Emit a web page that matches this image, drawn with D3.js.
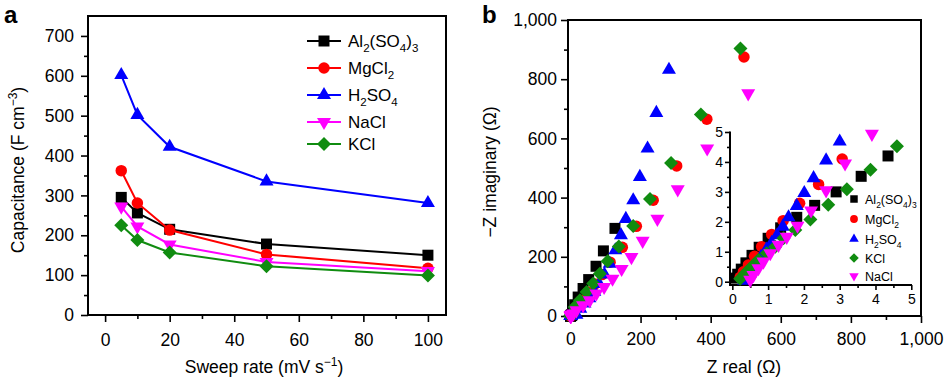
<!DOCTYPE html>
<html>
<head>
<meta charset="utf-8">
<script src="https://cdn.jsdelivr.net/npm/d3@7"></script>
<style>
  body { margin: 0; background: #fff; }
  text { font-family: "Liberation Sans", Arial, Helvetica, sans-serif; fill: #000; }
</style>
</head>
<body>
<div id="chart"></div>
<script>
// ---- panel a: capacitance vs sweep rate ----
const sweepRates = [5, 10, 20, 50, 100];
const capAl = [295, 256, 215, 178, 150];
const capMg = [362, 281, 213, 152, 117];
const capH2SO4 = [602, 502, 422, 335, 281];
const capNaCl = [272, 222, 177, 133, 110];
const capKCl = [225, 188, 157, 122, 99];

// ---- panel b: Nyquist plot, pairs of [Z real, -Z imaginary] ----
const nyqAl = [[0.08, 0.12], [0.15, 0.25], [0.25, 0.42], [0.38, 0.63], [0.55, 0.88], [0.75, 1.15],
  [1.0, 1.45], [1.35, 1.8], [1.8, 2.15], [2.3, 2.55], [2.9, 3.0], [3.6, 3.52], [4.35, 4.2],
  [6, 16], [12, 38], [22, 64], [36, 93], [52, 123], [73, 168], [94, 220], [127, 296]];
const nyqMg = [[0.22, 0.15], [0.31, 0.33], [0.45, 0.56], [0.62, 0.85], [0.82, 1.17], [1.1, 1.58],
  [1.42, 2.04], [1.88, 2.62], [2.41, 3.25], [3.07, 4.1],
  [15, 28], [31, 52], [50, 80], [70, 108], [90, 140], [113, 182], [148, 232], [188, 303],
  [236, 391], [303, 507], [389, 665], [495, 875]];
const nyqH2SO4 = [[0.33, 0.03], [0.4, 0.14], [0.48, 0.27], [0.57, 0.43], [0.68, 0.62], [0.8, 0.83],
  [0.95, 1.07], [1.1, 1.3], [1.25, 1.55], [1.41, 1.84], [1.57, 2.15], [1.8, 2.53], [2.01, 2.96],
  [2.27, 3.46], [2.62, 4.05], [3.0, 4.68],
  [17, 4], [28, 25], [40, 42], [54, 60], [68, 82], [82, 108], [97, 140], [112, 177], [128, 222],
  [144, 273], [158, 328], [179, 391], [198, 470], [220, 566], [245, 686], [281, 832]];
const nyqKCl = [[0.22, 0.1], [0.36, 0.28], [0.54, 0.5], [0.73, 0.73], [0.96, 0.95], [1.2, 1.17],
  [1.43, 1.45], [1.76, 1.73], [2.18, 2.08], [2.68, 2.57], [3.2, 3.09], [3.86, 3.74], [4.6, 4.52],
  [12, 30], [27, 53], [46, 81], [65, 110], [84, 143], [106, 185], [138, 235], [179, 304],
  [227, 395], [287, 517], [372, 681], [485, 904]];
const nyqNaCl = [[0.5, 0.06], [0.59, 0.22], [0.73, 0.45], [0.87, 0.67], [1.06, 0.95], [1.29, 1.23],
  [1.52, 1.5], [1.82, 1.87], [2.2, 2.38], [2.62, 3.05], [3.15, 3.95], [3.9, 4.94],
  [8, 8], [17, 19], [36, 36], [55, 53], [74, 76], [96, 98], [120, 126], [146, 159], [174, 199],
  [206, 254], [248, 328], [306, 428], [390, 566], [507, 752]];

const xTicksA = [0, 20, 40, 60, 80, 100];
const yTicksA = [0, 100, 200, 300, 400, 500, 600, 700];
const ticksB = [0, 200, 400, 600, 800, 1000];
const ticksInset = [0, 1, 2, 3, 4, 5];

const seriesA = [
  { name: "Al2(SO4)3", values: capAl, color: "#000000", shape: "square" },
  { name: "MgCl2", values: capMg, color: "#ff0000", shape: "circle" },
  { name: "H2SO4", values: capH2SO4, color: "#0000ff", shape: "triangle" },
  { name: "NaCl", values: capNaCl, color: "#ff00ff", shape: "triangleDown" },
  { name: "KCl", values: capKCl, color: "#108c10", shape: "diamond" }
];
const seriesB = [
  { name: "Al2(SO4)3", values: nyqAl, color: "#000000", shape: "square" },
  { name: "MgCl2", values: nyqMg, color: "#ff0000", shape: "circle" },
  { name: "H2SO4", values: nyqH2SO4, color: "#0000ff", shape: "triangle" },
  { name: "KCl", values: nyqKCl, color: "#108c10", shape: "diamond" },
  { name: "NaCl", values: nyqNaCl, color: "#ff00ff", shape: "triangleDown" }
];

const width = 946, height = 379;
const FS = 17.5;
const svg = d3.select("#chart").append("svg")
  .attr("width", width).attr("height", height);

// marker path, w = visual width in px
function markerPath(shape, w) {
  if (shape === "square") return d3.symbol(d3.symbolSquare, w * w)();
  if (shape === "circle") return d3.symbol(d3.symbolCircle, Math.PI * w * w / 4)();
  if (shape === "diamond") return d3.symbol(d3.symbolSquare, w * w / 2)();
  const y = w / (2 * Math.sqrt(3));
  return d3.symbol(d3.symbolTriangle, 3 * Math.sqrt(3) * y * y)();
}
function markerRot(shape) {
  if (shape === "diamond") return " rotate(45)";
  if (shape === "triangleDown") return " rotate(180)";
  return "";
}
const markerSize = { square: 11, circle: 11.5, triangle: 14, triangleDown: 14, diamond: 14 };

// chemical formula with subscripts
function formula(text, str, fs) {
  let prevSub = false;
  str.match(/\d+|\D+/g).forEach((t) => {
    const sub = /\d/.test(t);
    text.append("tspan")
      .attr("font-size", sub ? fs * 0.68 : fs)
      .attr("dy", sub ? fs * 0.32 : (prevSub ? -fs * 0.32 : 0))
      .text(t);
    prevSub = sub;
  });
}

function drawAxis(g, scale, orient, pos, majors, minors, fmt, opt) {
  const make = orient === "left" ? d3.axisLeft : d3.axisBottom;
  const tr = orient === "left" ? `translate(${pos},0)` : `translate(0,${pos})`;
  const minor = g.append("g").attr("transform", tr)
    .call(make(scale).tickValues(minors).tickSize(opt.minor).tickFormat(""));
  const major = g.append("g").attr("transform", tr)
    .call(make(scale).tickValues(majors).tickSize(opt.major).tickPadding(opt.pad).tickFormat(fmt));
  [minor, major].forEach((a) => {
    a.select(".domain").remove();
    a.selectAll("line").attr("stroke", "#000").attr("stroke-width", 1.6);
    a.selectAll("text").attr("font-size", opt.fs).attr("fill", "#000")
      .style("font-family", '"Liberation Sans", Arial, sans-serif');
  });
}

/* ================= PANEL A ================= */
const ax = d3.scaleLinear().domain([-5.3, 105.6]).range([88, 446]);
const ay = d3.scaleLinear().domain([0, 750]).range([315, 16]);
const ga = svg.append("g");

drawAxis(ga, ay, "left", 88, yTicksA, d3.range(50, 750, 100), d3.format("d"),
  { major: 7, minor: 4, pad: 7, fs: FS });
drawAxis(ga, ax, "bottom", 315, xTicksA, d3.range(10, 100, 20), d3.format("d"),
  { major: 7, minor: 4, pad: 12, fs: FS });

ga.append("rect")
  .attr("x", 88).attr("y", 16).attr("width", 446 - 88).attr("height", 315 - 16)
  .attr("fill", "none").attr("stroke", "#000").attr("stroke-width", 2);

const lineA = d3.line().x((d, i) => ax(sweepRates[i])).y((d) => ay(d));
seriesA.forEach((s) => {
  ga.append("path").attr("d", lineA(s.values))
    .attr("fill", "none").attr("stroke", s.color).attr("stroke-width", 2);
  ga.selectAll(null).data(s.values).enter().append("path")
    .attr("d", markerPath(s.shape, markerSize[s.shape]))
    .attr("transform", (d, i) => `translate(${ax(sweepRates[i])},${ay(d)})` + markerRot(s.shape))
    .attr("fill", s.color);
});

// legend a
const legY = [41, 68, 95, 122, 144];
seriesA.forEach((s, i) => {
  const row = ga.append("g").attr("transform", `translate(307,${legY[i]})`);
  row.append("line").attr("x1", 0).attr("x2", 34).attr("stroke", s.color).attr("stroke-width", 2);
  row.append("path").attr("d", markerPath(s.shape, markerSize[s.shape]))
    .attr("transform", "translate(17,0)" + markerRot(s.shape)).attr("fill", s.color);
  formula(row.append("text").attr("x", 41).attr("y", 6), s.name, 17);
});

// titles a
ga.append("text").attr("x", 4).attr("y", 23).attr("font-size", 24).attr("font-weight", "bold").text("a");
const xtA = ga.append("text").attr("x", 264).attr("y", 373).attr("text-anchor", "middle").attr("font-size", FS);
xtA.append("tspan").text("Sweep rate (mV s");
xtA.append("tspan").attr("font-size", 12).attr("dy", -7).text("\u22121");
xtA.append("tspan").attr("dy", 7).text(")");
const ytA = ga.append("text").attr("transform", "translate(24,170) rotate(-90)")
  .attr("text-anchor", "middle").attr("font-size", FS);
ytA.append("tspan").text("Capacitance (F cm");
ytA.append("tspan").attr("font-size", 12).attr("dy", -7).text("\u22123");
ytA.append("tspan").attr("dy", 7).text(")");

/* ================= PANEL B ================= */
const bx = d3.scaleLinear().domain([-7, 1000]).range([568, 921]);
const by = d3.scaleLinear().domain([0, 1000]).range([316, 20]);
const gb = svg.append("g");

drawAxis(gb, by, "left", 568, ticksB, d3.range(100, 1000, 200), d3.format(",d"),
  { major: 7, minor: 4, pad: 4, fs: FS });
drawAxis(gb, bx, "bottom", 316, ticksB, d3.range(100, 1000, 200), d3.format(",d"),
  { major: 7, minor: 4, pad: 10, fs: FS });

gb.append("rect")
  .attr("x", 568).attr("y", 20).attr("width", 921 - 568).attr("height", 316 - 20)
  .attr("fill", "none").attr("stroke", "#000").attr("stroke-width", 2);

seriesB.forEach((s) => {
  gb.selectAll(null).data(s.values).enter().append("path")
    .attr("d", markerPath(s.shape, markerSize[s.shape]))
    .attr("transform", (d) => `translate(${bx(d[0])},${by(d[1])})` + markerRot(s.shape))
    .attr("fill", s.color);
});

// inset
const ix = d3.scaleLinear().domain([-0.065, 5.02]).range([730, 912]);
const iy = d3.scaleLinear().domain([-0.11, 5]).range([285, 132]);
const gi = gb.append("g");
drawAxis(gi, iy, "left", 730, ticksInset, d3.range(0.5, 5, 1), d3.format("d"),
  { major: 5, minor: 3, pad: 2, fs: 14 });
drawAxis(gi, ix, "bottom", 285, ticksInset, d3.range(0.5, 5, 1), d3.format("d"),
  { major: 5, minor: 3, pad: 4, fs: 14 });
gi.append("path").attr("d", "M730,131.5V285H912")
  .attr("fill", "none").attr("stroke", "#000").attr("stroke-width", 2);

seriesB.forEach((s) => {
  gi.selectAll(null).data(s.values.filter((d) => d[0] <= 5.1 && d[1] <= 5.1)).enter().append("path")
    .attr("d", markerPath(s.shape, markerSize[s.shape]))
    .attr("transform", (d) => `translate(${ix(d[0])},${iy(d[1])})` + markerRot(s.shape))
    .attr("fill", s.color);
});

// inset legend
const legYB = [199, 219, 239, 258, 276];
seriesB.forEach((s, i) => {
  const row = gi.append("g").attr("transform", `translate(854,${legYB[i]})`);
  row.append("path").attr("d", markerPath(s.shape, markerSize[s.shape] * 0.68))
    .attr("transform", markerRot(s.shape).trim()).attr("fill", s.color);
  formula(row.append("text").attr("x", 11).attr("y", 4.5), s.name, 12.5);
});

// titles b
gb.append("text").attr("x", 482).attr("y", 23).attr("font-size", 24).attr("font-weight", "bold").text("b");
gb.append("text").attr("x", 744).attr("y", 373).attr("text-anchor", "middle").attr("font-size", FS)
  .text("Z real (\u03a9)");
gb.append("text").attr("transform", "translate(496,172) rotate(-90)")
  .attr("text-anchor", "middle").attr("font-size", FS)
  .text("\u2212Z imaginary (\u03a9)");
</script>
</body>
</html>
